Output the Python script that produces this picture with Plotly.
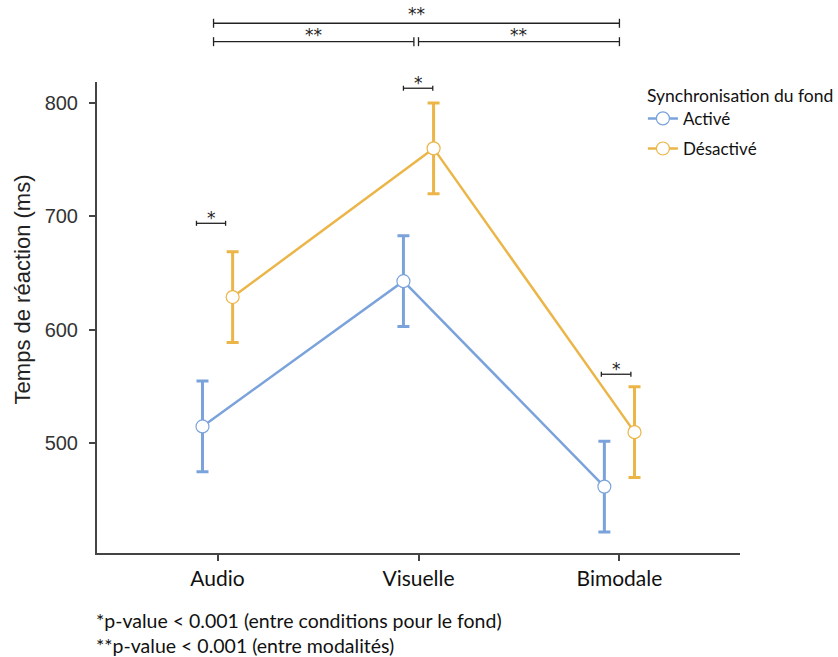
import plotly.graph_objects as go

# data
modalites = ["Audio", "Visuelle", "Bimodale"]
active_rt = [515, 643, 462]
active_err = [40, 40, 40]
desactive_rt = [629, 760, 510]
desactive_err = [40, 40, 40]

BLUE = "#7BA3DB"
ORANGE = "#EBB548"
LABEL_FONT = "Lato"
AXIS_FONT = "Liberation Sans"

xs = list(range(len(modalites)))
offset = 0.075

fig = go.Figure()


def add_series(name, values, errors, color, shift):
    fig.add_trace(go.Scatter(x=[i + shift for i in xs],
                             y=values,
                             name=name,
                             legendgroup=name,
                             mode="lines+markers",
                             line=dict(color=color, width=2.5),
                             marker=dict(symbol="circle", size=13, color="white",
                                         line=dict(color=color, width=1.2)),
                             error_y=dict(type="data", array=errors, visible=True,
                                          color=color, thickness=3, width=6)))


add_series("Activé", active_rt, active_err, BLUE, -offset)
add_series("Désactivé", desactive_rt, desactive_err, ORANGE, offset)

shapes = []
annotations = []


def bracket(x0, x1, y, yref, tick, label, label_shift):
    shapes.append(dict(type="line", xref="x", yref=yref, x0=x0, x1=x1, y0=y, y1=y,
                       line=dict(color="#222222", width=1.3)))
    for xe in (x0, x1):
        shapes.append(dict(type="line", xref="x", yref=yref,
                           ysizemode="pixel", yanchor=y, x0=xe, x1=xe,
                           y0=-tick, y1=tick,
                           line=dict(color="#222222", width=1.3)))
    annotations.append(dict(xref="x", yref=yref, x=(x0 + x1) / 2, y=y, text=label,
                            showarrow=False, yanchor="bottom", yshift=label_shift,
                            font=dict(family="DejaVu Sans", size=17, color="#222222")))


# comparisons between modalities (above the plot)
bracket(-0.02, 2.0, 1.1247, "paper", 4.5, "**", -3)
bracket(-0.02, 0.977, 1.0856, "paper", 4.5, "**", -5)
bracket(1.0, 2.0, 1.0856, "paper", 4.5, "**", -5)
# comparisons between background conditions
bracket(-0.105, 0.04, 694, "y", 2.5, "*", -7)
bracket(0.925, 1.071, 813, "y", 2.5, "*", -7)
bracket(1.91, 2.057, 561, "y", 2.5, "*", -7)

annotations.append(dict(xref="paper", yref="paper", x=-0.1156, y=0.559,
                        xanchor="center", yanchor="middle",
                        text="Temps de réaction (ms)", textangle=-90, showarrow=False,
                        font=dict(family=AXIS_FONT, size=22, color="#222222")))
annotations.append(dict(xref="paper", yref="paper", x=-0.004, y=-0.143,
                        xanchor="left", yanchor="middle",
                        text="*p-value < 0.001 (entre conditions pour le fond)",
                        showarrow=False,
                        font=dict(family=LABEL_FONT, size=19.5, color="#111111")))
annotations.append(dict(xref="paper", yref="paper", x=-0.004, y=-0.196,
                        xanchor="left", yanchor="middle",
                        text="**p-value < 0.001 (entre modalités)",
                        showarrow=False,
                        font=dict(family=LABEL_FONT, size=19.5, color="#111111")))
# legend title kept as an annotation so the legend box does not push the margin
annotations.append(dict(xref="paper", yref="paper", x=0.852, y=0.972,
                        xanchor="left", yanchor="middle",
                        text="Synchronisation du fond", showarrow=False,
                        font=dict(family=LABEL_FONT, size=17.5, color="#111111")))

fig.update_layout(
    width=838, height=657,
    margin=dict(l=97, r=98, t=82, b=104),
    paper_bgcolor="white",
    plot_bgcolor="white",
    showlegend=True,
    legend=dict(font=dict(family=LABEL_FONT, size=17, color="#111111"),
                x=0.849, y=0.96, xanchor="left", yanchor="top",
                bgcolor="rgba(0,0,0,0)", tracegroupgap=5),
    shapes=shapes,
    annotations=annotations,
)

fig.update_xaxes(range=[-0.6, 2.6], tickmode="array", tickvals=xs, ticktext=modalites,
                 showgrid=False, zeroline=False, showline=True,
                 linecolor="#444444", linewidth=2,
                 ticks="outside", ticklen=6, tickwidth=2, tickcolor="#444444",
                 tickfont=dict(family=LABEL_FONT, size=21, color="#111111"))
fig.update_yaxes(range=[403.5, 818.5], tickvals=[500, 600, 700, 800],
                 showgrid=False, zeroline=False, showline=True,
                 linecolor="#444444", linewidth=2,
                 ticks="outside", ticklen=6, tickwidth=2, tickcolor="#444444",
                 ticklabelstandoff=7,
                 tickfont=dict(family=AXIS_FONT, size=20, color="#333333"))

# drop the browser's default body margin so the figure sits at the page corner
fig.write_html("out.html", config={"displayModeBar": False},
               post_script="document.body.style.margin = '0';")
